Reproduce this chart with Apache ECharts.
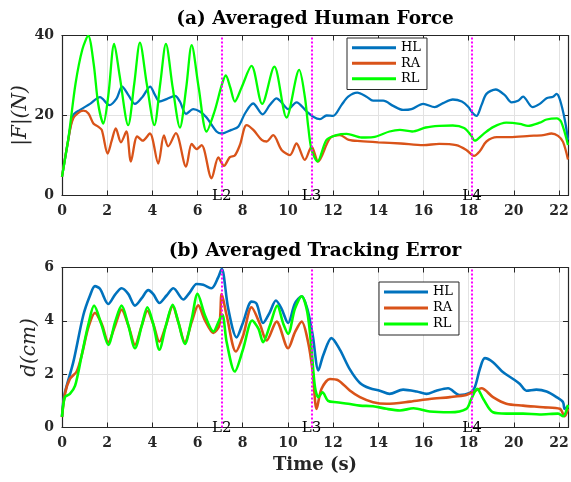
<!DOCTYPE html>
<html><head><meta charset="utf-8">
<script src="https://cdn.jsdelivr.net/npm/echarts@6/dist/echarts.min.js"></script>
<style>html,body{margin:0;padding:0;background:#fff}#c{width:571px;height:482px}</style>
</head><body><div id="c"></div>
<script>
// ---------------- DATA ----------------
const seriesNames = ['HL', 'RA', 'RL'];
const seriesColors = ['#0072BD', '#D95319', '#00FF00'];
const markerTimes = [7.07, 11.05, 18.15];
const markerLabels = ['L2', 'L3', 'L4'];
const xTicks = [0, 2, 4, 6, 8, 10, 12, 14, 16, 18, 20, 22];
const forceTicks = [0, 20, 40];
const errorTicks = [0, 2, 4, 6];

// (a) Averaged Human Force
const tForceHL = [0,0.25,0.5,0.8,1.24,1.68,2.1,2.42,2.66,2.94,3.23,3.57,3.9,4.12,4.31,4.63,5.0,5.22,5.49,5.81,6.1,6.4,6.84,7.07,7.5,7.8,8.1,8.46,8.88,9.2,9.5,9.72,10.01,10.38,10.83,11.12,11.42,11.71,12.0,12.37,12.67,13.07,13.48,13.77,14.22,14.66,15.1,15.47,15.99,16.5,16.87,17.3,17.7,17.98,18.17,18.35,18.57,18.79,19.2,19.6,19.9,20.19,20.41,20.83,21.15,21.45,21.74,21.89,22.04,22.26,22.4];
const forceHL = [4.7,13,20.1,21.4,22.9,24.6,22.6,24.3,27.2,25.1,22.9,24.7,27.2,25.1,23.5,24.1,24.9,23.5,20.4,21.6,21,19.5,16,15.5,16.4,17.2,20.5,23,20.3,22.6,24.3,23.3,21.6,23.3,21,19.7,19.1,20,19.9,22.6,24.7,25.7,24.7,23.7,23.7,22.4,21.4,21.6,22.9,22.1,23.1,24,23.5,22.2,20.7,19.9,22.6,25.4,26.5,25.1,23.3,23.7,24.7,22.1,22.9,24.3,24.7,25.4,24,18.9,13.9];

const tForceRA = [0,0.25,0.5,0.94,1.17,1.39,1.6,1.76,2.02,2.2,2.38,2.61,2.85,3.05,3.33,3.57,3.89,4.26,4.51,4.7,5.04,5.49,5.74,5.96,6.18,6.62,6.92,7.17,7.43,7.65,7.88,8.17,8.47,8.84,9.06,9.35,9.72,10.09,10.38,10.75,11.05,11.34,11.86,12.3,12.7,13.2,14.0,15.0,16.0,16.7,17.45,17.9,18.24,18.5,18.79,19.25,19.82,20.7,21.3,21.67,21.96,22.18,22.4];
const forceRA = [4.7,13,19.3,21.2,20.5,18,17.2,16.4,10.5,13.7,16.8,13.3,16,8.5,14.8,13.7,15.5,8.0,15,12.3,15.6,7.2,12.9,11.6,12.6,4.3,9.5,7.4,9.6,10,12.7,17.6,16.4,13.9,13.5,15.1,11.4,10.1,13,8.9,12.2,8.5,14.3,15.1,13.9,13.6,13.3,13.0,12.6,12.9,12.6,11.4,9.9,11.1,13.5,14.6,14.6,14.9,15.1,15.5,14.9,13.4,9];

const tForceRL = [0,0.3,0.6,0.9,1.16,1.4,1.6,1.83,2.05,2.31,2.55,2.93,3.2,3.45,3.75,4.09,4.35,4.6,4.9,5.22,5.5,5.74,6.05,6.4,6.75,7.07,7.25,7.45,7.65,7.95,8.39,8.86,9.4,9.94,10.5,10.75,10.9,11.05,11.31,11.71,12.15,12.6,13.26,13.77,14.5,14.96,15.5,16.1,16.7,17.3,17.8,18.1,18.27,18.64,19.08,19.67,20.27,20.63,21.15,21.45,21.9,22.1,22.4];
const forceRL = [4.7,15,28,36.5,39.9,33,23,18,25,37.9,30,17.6,28,38.2,28,17.6,28,37.9,27,17,27,37.6,27,16,21,27.6,30,27,23.5,27,32.4,22.9,32.2,19.5,31.4,24.7,17.2,11.4,8.5,13.9,15.1,15.4,14.5,14.6,16,16.4,16,17,17.4,17.5,16.9,15.1,13.7,15.3,17.1,18.2,17.9,17.4,18.2,19,19.3,18.4,12.6];

// (b) Averaged Tracking Error
const tErrHL = [0,0.1,0.5,0.94,1.24,1.46,1.68,2.05,2.35,2.64,2.94,3.23,3.53,3.82,4.04,4.31,4.63,4.93,5.37,5.66,5.96,6.25,6.62,6.92,7.07,7.36,7.73,8.02,8.39,8.61,8.9,9.2,9.47,9.72,10.01,10.31,10.61,10.86,11.1,11.35,11.56,11.93,12.3,12.73,13.19,13.63,14.07,14.5,15.1,15.7,16.14,16.57,17.09,17.6,18.05,18.27,18.5,18.72,19.08,19.53,19.97,20.27,20.56,21.0,21.45,21.89,22.18,22.25,22.4];
const errHL = [0.4,1.2,2.45,4.2,4.95,5.3,5.2,4.63,4.98,5.22,5.0,4.57,4.85,5.15,5.0,4.67,4.95,5.22,4.8,5.07,5.38,5.35,5.22,5.64,5.95,4.45,3.38,3.95,4.72,4.65,3.92,4.32,4.76,4.45,3.92,4.65,4.92,4.45,3.45,2.14,2.7,3.35,2.92,2.2,1.67,1.47,1.38,1.26,1.42,1.35,1.26,1.38,1.47,1.22,1.3,1.5,2.2,2.6,2.45,2.07,1.82,1.63,1.38,1.42,1.35,1.14,0.95,0.7,0.8];

const tErrRA = [0,0.13,0.35,0.65,0.87,1.17,1.46,1.76,2.05,2.35,2.64,2.94,3.23,3.53,3.78,4.04,4.31,4.6,4.9,5.15,5.44,5.74,6.03,6.33,6.7,6.96,7.07,7.29,7.7,8.02,8.39,8.76,9.06,9.5,10.01,10.31,10.61,10.9,11.1,11.27,11.49,11.86,12.23,12.74,13.19,13.77,14.37,15.4,16.28,17.17,17.9,18.17,18.57,19.08,19.67,20.41,21.3,22.04,22.25,22.4];
const errRA = [0.39,1.26,1.82,2.1,2.7,3.76,4.3,3.88,3.2,3.82,4.42,3.82,3.1,3.82,4.38,3.88,3.22,3.82,4.55,3.95,3.2,3.95,4.58,4.02,3.55,3.82,5.0,4.2,2.85,3.45,4.51,3.88,3.26,3.97,2.97,3.57,3.97,3.18,2.07,0.7,1.45,1.82,1.77,1.39,1.14,0.95,0.89,0.97,1.07,1.14,1.22,1.32,1.47,1.14,0.89,0.82,0.76,0.7,0.42,0.7];

const tErrRL = [0,0.13,0.35,0.58,0.87,1.17,1.42,1.76,2.05,2.35,2.64,2.94,3.23,3.53,3.78,4.04,4.31,4.6,4.9,5.15,5.44,5.74,6.0,6.33,6.7,6.96,7.1,7.29,7.65,8.02,8.42,8.7,8.9,9.2,9.53,9.8,10.01,10.31,10.61,10.86,11.05,11.2,11.35,11.53,11.78,12.15,12.67,13.19,13.77,14.37,14.96,15.56,16.28,17.17,17.9,18.12,18.38,18.65,19.08,19.67,20.41,21.15,21.96,22.18,22.4];
const errRL = [0.4,1.14,1.26,1.57,2.7,3.88,4.57,3.82,3.1,3.95,4.57,3.82,2.97,3.82,4.51,3.88,2.92,3.82,4.6,3.95,3.13,4.07,5.01,4.2,3.6,4.02,4.23,3.2,2.1,2.95,4.01,3.7,3.2,3.82,4.57,3.88,3.51,4.45,4.92,4.32,2.9,1.51,1.14,1.32,1.0,0.95,0.89,0.82,0.8,0.7,0.64,0.72,0.6,0.57,0.7,1.07,1.45,1.07,0.57,0.52,0.52,0.49,0.52,0.42,0.85];

// ---------------- CHART ----------------
const FONT = 'DejaVu Serif';
const AX = '#262626';
const pairs = (t, v) => t.map((x, i) => [x, v[i]]);
const isTick = (v, ticks) => ticks.some(t => Math.abs(t - v) < 1e-6);

function xAx(grid, top, showLabels, name) {
  return {
    type: 'value', gridIndex: grid, position: top ? 'top' : 'bottom',
    min: 0, max: 22.4, interval: 2,
    axisLine: { show: true, onZero: false, lineStyle: { color: AX, width: 1.2 } },
    axisTick: { show: true, inside: true, length: 5, lineStyle: { color: AX } },
    axisLabel: { show: showLabels, margin: 9, fontFamily: FONT, fontWeight: 'bold', fontSize: 14, color: AX,
      formatter: v => isTick(v, xTicks) ? String(v) : '' },
    splitLine: { show: !top, lineStyle: { color: '#e2e2e2', width: 1 } },
    name: name || '', nameLocation: 'middle', nameGap: 29,
    nameTextStyle: { fontFamily: FONT, fontWeight: 'bold', fontSize: 18, color: AX }
  };
}
function yAx(grid, right, max, ticks, name, gap) {
  return {
    type: 'value', gridIndex: grid, position: right ? 'right' : 'left',
    min: 0, max: max, interval: ticks[1] - ticks[0],
    axisLine: { show: true, onZero: false, lineStyle: { color: AX, width: 1.2 } },
    axisTick: { show: true, inside: true, length: 5, lineStyle: { color: AX } },
    axisLabel: { show: !right, margin: 8, fontFamily: FONT, fontWeight: 'bold', fontSize: 14, color: AX },
    splitLine: { show: !right, lineStyle: { color: '#e2e2e2', width: 1 } },
    name: name || '', nameLocation: 'middle', nameGap: gap || 30, nameMoveOverlap: false,
    nameTextStyle: { fontFamily: FONT, fontStyle: 'italic', fontSize: 20, color: AX }
  };
}

function markLines(ymax) {
  return {
    silent: true, symbol: ['none', 'none'], animation: false, precision: 4,
    lineStyle: { color: '#FF00FF', type: [2, 2], width: 2 },
    label: { show: true, position: 'start', distance: -7, formatter: '{b}',
      fontFamily: FONT, fontSize: 15, color: '#000' },
    emphasis: { disabled: true },
    data: markerTimes.map((x, i) => [{ coord: [x, 0], name: markerLabels[i] }, { coord: [x, ymax] }])
  };
}

const forceT = [tForceHL, tForceRA, tForceRL];
const forceV = [forceHL, forceRA, forceRL];
const errT = [tErrHL, tErrRA, tErrRL];
const errV = [errHL, errRA, errRL];

const series = [];
seriesNames.forEach((n, i) => {
  series.push({
    name: n, type: 'line', xAxisIndex: 0, yAxisIndex: 0, data: pairs(forceT[i], forceV[i]),
    symbol: 'none', smooth: 0.3, lineStyle: { color: seriesColors[i], width: 2.3 },
    itemStyle: { color: seriesColors[i] }, z: 2 + i,
    markLine: i === 0 ? markLines(40) : undefined
  });
});
seriesNames.forEach((n, i) => {
  series.push({
    name: n, type: 'line', xAxisIndex: 2, yAxisIndex: 2, data: pairs(errT[i], errV[i]),
    symbol: 'none', smooth: 0.3, lineStyle: { color: seriesColors[i], width: 2.6 },
    itemStyle: { color: seriesColors[i] }, z: 2 + i,
    markLine: i === 0 ? markLines(6) : undefined
  });
});

const legendBase = {
  orient: 'vertical', data: seriesNames, icon: 'rect', itemWidth: 44, itemHeight: 3, itemGap: 0,
  padding: [2, 6, 3, 5], borderColor: AX, borderWidth: 1, backgroundColor: '#fff',
  selectedMode: false, z: 10
};

const chart = echarts.init(document.getElementById('c'), null, { renderer: 'canvas' });
chart.setOption({
  animation: false,
  backgroundColor: '#fff',
  grid: [
    { left: 62, top: 35.5, width: 506, height: 160, outerBoundsMode: 'none', containLabel: false },
    { left: 62, top: 267.5, width: 506, height: 160, outerBoundsMode: 'none', containLabel: false }
  ],
  xAxis: [xAx(0, false, true), xAx(0, true, false), xAx(1, false, true, 'Time (s)'), xAx(1, true, false)],
  yAxis: [yAx(0, false, 40, forceTicks, '|F|(N)', 31), yAx(0, true, 40, forceTicks),
          yAx(1, false, 6, errorTicks, 'd(cm)', 22), yAx(1, true, 6, errorTicks)],
  legend: [
    Object.assign({}, legendBase, { left: 347, top: 38,
      textStyle: { fontFamily: FONT, fontSize: 13, color: '#000', lineHeight: 15.5 } }),
    Object.assign({}, legendBase, { left: 379, top: 282,
      textStyle: { fontFamily: FONT, fontSize: 13, color: '#000', lineHeight: 16 } })
  ],
  graphic: [
    { type: 'text', x: 315, y: 19.5, silent: true,
      style: { text: '(a) Averaged Human Force', textAlign: 'center', textVerticalAlign: 'middle',
        font: 'bold 18.5px "DejaVu Serif"', fill: '#000' } },
    { type: 'text', x: 315, y: 251, silent: true,
      style: { text: '(b) Averaged Tracking Error', textAlign: 'center', textVerticalAlign: 'middle',
        font: 'bold 18.5px "DejaVu Serif"', fill: '#000' } }
  ],
  series: series
});
</script></body></html>
